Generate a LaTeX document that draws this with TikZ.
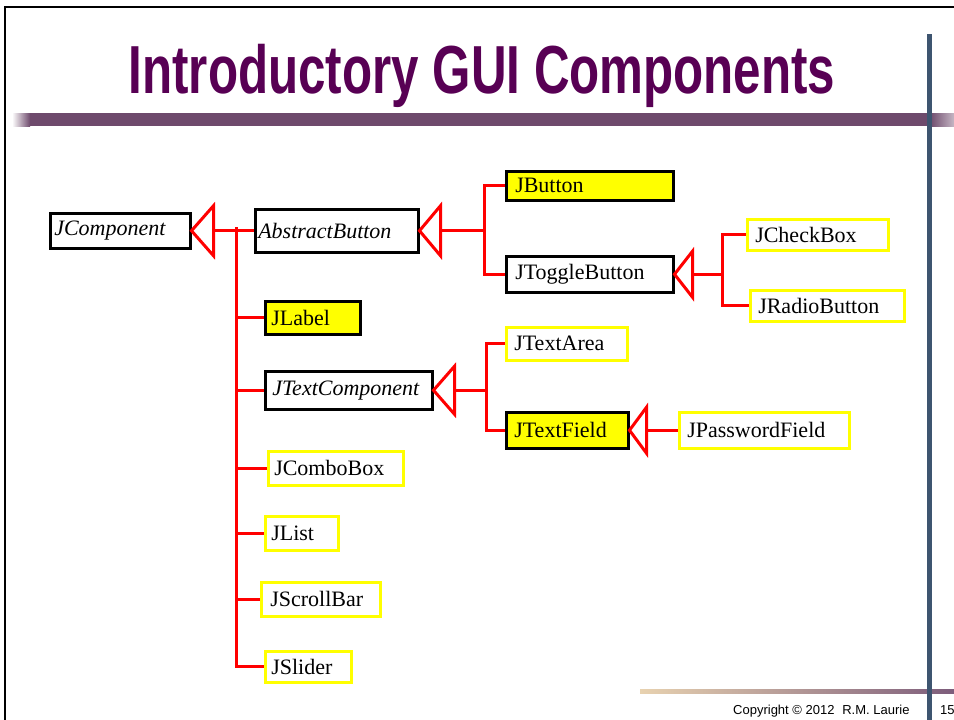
\documentclass[tikz,border=0pt]{standalone}
\usepackage{graphicx}
\usepackage{fontspec}
\setmainfont{Liberation Serif}
\newfontfamily\arialf{Liberation Sans}
\definecolor{ttl}{RGB}{88,0,84}
\definecolor{barpurple}{RGB}{110,74,108}
\definecolor{barblue}{RGB}{62,85,112}
\definecolor{bartan}{RGB}{232,210,176}
\definecolor{jyellow}{RGB}{255,255,0}
\tikzset{
  box/.style={draw=black, line width=2.5pt, fill=white, anchor=north west,
              inner ysep=0pt, align=left, font=\fontsize{22}{24}\selectfont},
  ybox/.style={box, draw=jyellow},
  yfill/.style={box, fill=jyellow},
  ital/.style={font=\fontsize{22}{24}\selectfont\itshape},
  conn/.style={red, line width=3pt},
  tri/.style={conn, fill=white, line join=miter}
}
\newcommand\bx[8][]{\pgfmathsetmacro\bxw{#5-2*#7}%
  \node[box,#1,inner xsep=#7pt,minimum height=#6pt,text width=\bxw pt] (#2) at (#3,#4) {#8};}
\begin{document}
\begin{tikzpicture}[x=1pt,y=-1pt]
\useasboundingbox (0,0) rectangle (954,720);
\fill[white] (0,0) rectangle (954,720);
% frame
\draw[black, line width=2.5pt] (5,720) -- (5,7) -- (954,7);
% top bar
\fill[barpurple] (30,113) rectangle (930,126);
\shade[left color=white, right color=barpurple] (12,113) rectangle (30,126);
\shade[left color=barpurple, right color=barpurple!40] (930,113) rectangle (954,126);
% bottom bar
\shade[left color=bartan, right color=barpurple!90] (640,689) rectangle (954,693);
% vertical bar
\fill[barblue] (927,34) rectangle (932,720);
% title
\node[anchor=base, text=ttl, font=\arialf\bfseries\fontsize{68}{70}\selectfont] (title) at (482,93)
  {\scalebox{0.725}[1]{Introductory GUI Components}};
% boxes
\bx[ital]{jc}{49}{212}{140}{35}{4}{JComponent}
\bx[ital]{ab}{254}{208}{163}{43}{3}{AbstractButton}
\bx[yfill]{jb}{505}{170}{167}{29}{9}{JButton}
\bx{jt}{505}{255}{167}{36}{9}{JToggleButton}
\bx[ybox]{jcb}{746}{218}{141}{31}{8}{JCheckBox}
\bx[ybox]{jrb}{749}{289}{154}{31}{8}{JRadioButton}
\bx[yfill]{jl}{264}{300}{95}{33}{6}{JLabel}
\bx[ital]{jtc}{264}{370}{167}{38}{7}{JTextComponent}
\bx[ybox]{ta}{505}{326}{121}{33}{8}{JTextArea}
\bx[yfill]{tf}{505}{411}{122}{36}{8}{JTextField}
\bx[ybox]{pf}{678}{411}{170}{36}{8}{JPasswordField}
\bx[ybox]{cb}{267}{450}{135}{34}{6}{JComboBox}
\bx[ybox]{li}{264}{515}{73}{34}{6}{JList}
\bx[ybox]{sb}{260}{581}{119}{34}{9}{JScrollBar}
\bx[ybox]{sl}{264}{650}{86}{31}{6}{JSlider}
% JComponent hierarchy
\coordinate (sp) at (236,227);
\draw[conn] ([xshift=22pt]jc.east) -- (ab.west);
\draw[tri] (jc.east) -- ++(22,-25) -- ++(0,50) -- cycle;
\draw[conn] (sp) -- (sp |- sl.west) -- (sl.west);
\foreach \n in {jl,jtc,cb,li,sb}{\draw[conn] (sp |- \n.west) -- (\n.west);}
% AbstractButton
\draw[conn] ([xshift=21pt]ab.east) -- ([xshift=65pt]ab.east) coordinate (abs);
\draw[tri] (ab.east) -- ++(21,-25) -- ++(0,50) -- cycle;
\draw[conn] (jb.west) -- (abs |- jb.west) -- (abs |- jt.west) -- (jt.west);
% JToggleButton
\draw[conn] ([xshift=18pt]jt.east) -- ([xshift=48pt]jt.east) coordinate (jts);
\draw[tri] (jt.east) -- ++(18,-23) -- ++(0,46) -- cycle;
\draw[conn] (jcb.west) -- (jts |- jcb.west) -- (jts |- jrb.west) -- (jrb.west);
% JTextComponent
\draw[conn] ([xshift=21pt]jtc.east) -- ([xshift=53pt]jtc.east) coordinate (tcs);
\draw[tri] (jtc.east) -- ++(21,-24) -- ++(0,48) -- cycle;
\draw[conn] (ta.west) -- (tcs |- ta.west) -- (tcs |- tf.west) -- (tf.west);
% JTextField
\draw[conn] ([xshift=17pt]tf.east) -- (pf.west);
\draw[tri] (tf.east) -- ++(17,-23) -- ++(0,46) -- cycle;
% footer
\node[anchor=base west, inner sep=0pt, font=\arialf\fontsize{13}{15}\selectfont] (cp) at (733,714)
  {Copyright © 2012\hspace{0.6em}R.M. Laurie};
\node[anchor=base west, inner sep=0pt, font=\arialf\fontsize{13}{15}\selectfont] (pg) at (940,714) {15};
\end{tikzpicture}
\end{document}
